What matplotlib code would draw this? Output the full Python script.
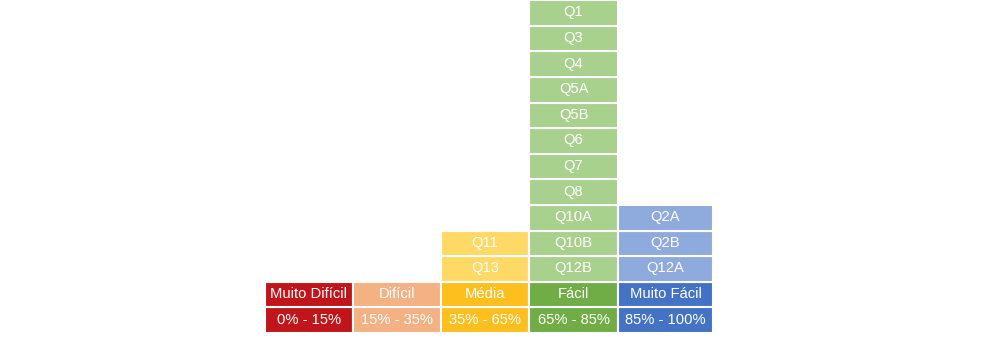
import matplotlib.pyplot as plt

# Difficulty bands and the questions that fall in each one
categories = ["Muito Difícil", "Difícil", "Média", "Fácil", "Muito Fácil"]
ranges = ["0% - 15%", "15% - 35%", "35% - 65%", "65% - 85%", "85% - 100%"]
questions_muito_dificil = []
questions_dificil = []
questions_media = ["Q13", "Q11"]
questions_facil = ["Q12B", "Q10B", "Q10A", "Q8", "Q7", "Q6", "Q5B", "Q5A", "Q4", "Q3", "Q1"]
questions_muito_facil = ["Q12A", "Q2B", "Q2A"]

dark_colors = ["#C0161B", "#F4B183", "#FDBF1E", "#70AD47", "#4472C4"]
light_colors = ["#E06666", "#F8CBAD", "#FFD966", "#A9D18E", "#8FAADC"]

# column edges in pixels, row geometry
col_edges = [265, 353, 441, 529, 618, 713]
ROW_H = 25.6
BASE = 6

plt.rcParams["font.family"] = ["Liberation Sans", "DejaVu Sans"]

fig = plt.figure(figsize=(9.81, 3.39), dpi=100)
ax = fig.add_axes([0, 0, 1, 1])
ax.set_xlim(0, 981)
ax.set_ylim(0, 339)
ax.axis("off")

stacks = [questions_muito_dificil, questions_dificil, questions_media,
          questions_facil, questions_muito_facil]


def cell(i, row, color, label):
    left = col_edges[i]
    width = col_edges[i + 1] - col_edges[i]
    ax.bar(left, ROW_H, width=width, bottom=BASE + row * ROW_H, align="edge",
           color=color, edgecolor="white", linewidth=1.5)
    ax.text(left + width / 2, BASE + (row + 0.52) * ROW_H, label,
            ha="center", va="center", color="white", fontsize=10.6)


for i, cat in enumerate(categories):
    cell(i, 0, dark_colors[i], ranges[i])
    cell(i, 1, dark_colors[i], cat)
    for j, q in enumerate(stacks[i]):
        cell(i, j + 2, light_colors[i], q)

fig.savefig("out.png", dpi=100)
